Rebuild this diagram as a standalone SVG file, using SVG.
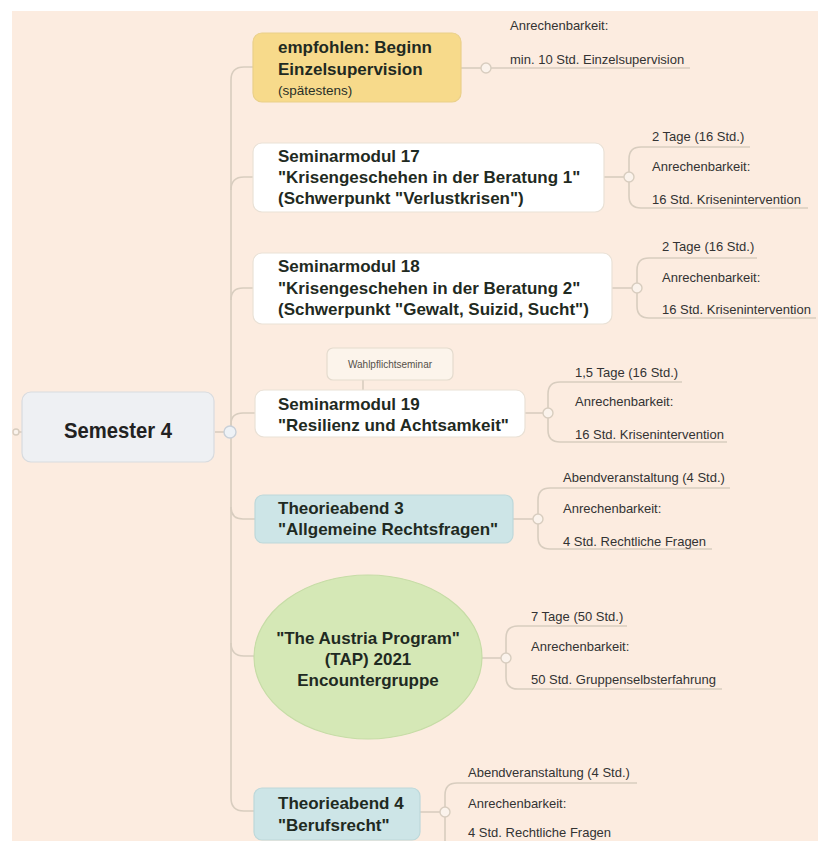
<svg xmlns="http://www.w3.org/2000/svg" width="818" height="841" viewBox="0 0 818 841">
  <style>
    .bg { fill: #fcece0; }
    .line { fill: none; stroke: #d8cdbf; stroke-width: 1.6; }
    .joint { fill: #fbf3ec; stroke: #d8cdbf; stroke-width: 1.4; }
    .box { stroke-width: 1.2; }
    .white { fill: #ffffff; stroke: #e9e1d6; }
    .yellow { fill: #f7da8b; stroke: #ead08a; }
    .teal { fill: #cde5e7; stroke: #bdd8da; }
    .green { fill: #d5e8b6; stroke: #c6dca6; }
    .title { font-family: "Liberation Sans", Arial, sans-serif; font-weight: bold; font-size: 17px; fill: #1f2a22; }
    .sub { font-family: "Liberation Sans", Arial, sans-serif; font-size: 13.5px; fill: #2a3028; }
    .leaf { font-family: "Liberation Sans", Arial, sans-serif; font-size: 13px; fill: #333333; }
    .tag { font-family: "Liberation Sans", Arial, sans-serif; font-size: 10px; fill: #555049; }
  </style>

  <!-- canvas -->
  <rect x="0" y="0" width="818" height="841" fill="#ffffff"/>
  <rect class="bg" x="12" y="11" width="806" height="830"/>

  <!-- connectors -->
  <g id="connectors">
    <!-- root to trunk -->
    <line class="line" x1="19" y1="432" x2="22" y2="432"/>
    <line class="line" x1="215" y1="432" x2="225" y2="432"/>
    <!-- trunk, upward branches -->
    <path class="line" d="M231,426 V80 Q231,67 244,67 H253"/>
    <path class="line" d="M231,190 Q231,177 244,177 H253"/>
    <path class="line" d="M231,300 Q231,288 243,288 H253"/>
    <path class="line" d="M231,426 V424 Q231,413 243,413 H255"/>
    <!-- trunk, downward branches -->
    <path class="line" d="M231,438 V798 Q231,811 244,811 H254"/>
    <path class="line" d="M231,507 Q231,519 243,519 H255"/>
    <path class="line" d="M231,643 Q231,656 244,656 H256"/>

    <!-- node to joint links -->
    <line class="line" x1="461" y1="68" x2="481" y2="68"/>
    <line class="line" x1="604" y1="177" x2="624" y2="177"/>
    <line class="line" x1="612" y1="288" x2="632" y2="288"/>
    <line class="line" x1="525" y1="413" x2="543" y2="413"/>
    <line class="line" x1="513" y1="519" x2="533" y2="519"/>
    <line class="line" x1="482" y1="658" x2="501" y2="658"/>
    <line class="line" x1="420" y1="812" x2="440" y2="812"/>
    <line class="line" x1="363" y1="380" x2="363" y2="390"/>

    <!-- leaf branches -->
    <path class="line" d="M491,68 H690"/>
    <path class="line" d="M629,172 V159 Q629,147 641,147 H750 M629,182 V196 Q629,208 641,208 H808"/>
    <path class="line" d="M637,283 V270 Q637,258 649,258 H757 M637,293 V306 Q637,318 649,318 H816"/>
    <path class="line" d="M548,408 V394 Q548,382 560,382 H682 M548,418 V430 Q548,442 560,442 H727"/>
    <path class="line" d="M538,514 V500 Q538,488 550,488 H730 M538,524 V537 Q538,549 550,549 H712"/>
    <path class="line" d="M506,653 V638 Q506,626 518,626 H627 M506,663 V677 Q506,689 518,689 H722"/>
    <path class="line" d="M445,807 V795 Q445,783 457,783 H637 M445,817 V841"/>

    <!-- joints -->
    <circle cx="16" cy="432" r="3" class="joint" fill="#eef1f4"/>
    <circle cx="230" cy="432" r="6" fill="#eef2f6" stroke="#c9d0d8" stroke-width="1.4"/>
    <circle cx="486" cy="68" r="5" class="joint"/>
    <circle cx="629" cy="177" r="5" class="joint"/>
    <circle cx="637" cy="288" r="5" class="joint"/>
    <circle cx="548" cy="413" r="5" class="joint"/>
    <circle cx="538" cy="519" r="5" class="joint"/>
    <circle cx="506" cy="658" r="5" class="joint"/>
    <circle cx="445" cy="812" r="5" class="joint"/>
  </g>

  <!-- root -->
  <g id="semester4">
    <rect x="22" y="392" width="192" height="70" rx="9" fill="#eef0f3" stroke="#d8dbdf" stroke-width="1.2"/>
    <text x="118" y="438" text-anchor="middle" font-family="'Liberation Sans', Arial, sans-serif" font-weight="bold" font-size="22" fill="#222222" textLength="108" lengthAdjust="spacingAndGlyphs">Semester 4</text>
  </g>

  <g id="einzelsupervision">
    <rect class="box yellow" x="253" y="33" width="208" height="69" rx="9"/>
    <text class="title" x="278" y="53">empfohlen: Beginn</text>
    <text class="title" x="278" y="75">Einzelsupervision</text>
    <text class="sub" x="278" y="95">(spätestens)</text>
    <text class="leaf" x="510" y="30">Anrechenbarkeit:</text>
    <text class="leaf" x="510" y="64">min. 10 Std. Einzelsupervision</text>
  </g>

  <g id="modul17">
    <rect class="box white" x="253" y="143" width="351" height="69" rx="9"/>
    <text class="title" x="278" y="162">Seminarmodul 17</text>
    <text class="title" x="278" y="183">"Krisengeschehen in der Beratung 1"</text>
    <text class="title" x="278" y="204">(Schwerpunkt "Verlustkrisen")</text>
    <text class="leaf" x="652" y="141">2 Tage (16 Std.)</text>
    <text class="leaf" x="652" y="171">Anrechenbarkeit:</text>
    <text class="leaf" x="652" y="204">16 Std. Krisenintervention</text>
  </g>

  <g id="modul18">
    <rect class="box white" x="253" y="253" width="359" height="71" rx="9"/>
    <text class="title" x="278" y="272">Seminarmodul 18</text>
    <text class="title" x="278" y="294">"Krisengeschehen in der Beratung 2"</text>
    <text class="title" x="278" y="315">(Schwerpunkt "Gewalt, Suizid, Sucht")</text>
    <text class="leaf" x="662" y="251">2 Tage (16 Std.)</text>
    <text class="leaf" x="662" y="282">Anrechenbarkeit:</text>
    <text class="leaf" x="662" y="314">16 Std. Krisenintervention</text>
  </g>

  <g id="wahlpflicht">
    <rect x="327" y="348" width="126" height="32" rx="6" fill="#fcf4eb" stroke="#e4dbce" stroke-width="1.2"/>
    <text class="tag" x="390" y="368" text-anchor="middle">Wahlpflichtseminar</text>
  </g>

  <g id="modul19">
    <rect class="box white" x="255" y="390" width="270" height="47" rx="9"/>
    <text class="title" x="278" y="410">Seminarmodul 19</text>
    <text class="title" x="278" y="431">"Resilienz und Achtsamkeit"</text>
    <text class="leaf" x="575" y="377">1,5 Tage (16 Std.)</text>
    <text class="leaf" x="575" y="406">Anrechenbarkeit:</text>
    <text class="leaf" x="575" y="439">16 Std. Krisenintervention</text>
  </g>

  <g id="theorieabend3">
    <rect class="box teal" x="255" y="495" width="258" height="48" rx="8"/>
    <text class="title" x="278" y="514">Theorieabend 3</text>
    <text class="title" x="278" y="535">"Allgemeine Rechtsfragen"</text>
    <text class="leaf" x="563" y="482">Abendveranstaltung (4 Std.)</text>
    <text class="leaf" x="563" y="513">Anrechenbarkeit:</text>
    <text class="leaf" x="563" y="546">4 Std. Rechtliche Fragen</text>
  </g>

  <g id="tap2021">
    <ellipse class="box green" cx="368" cy="657" rx="114" ry="82"/>
    <text class="title" x="368" y="644" text-anchor="middle">"The Austria Program"</text>
    <text class="title" x="368" y="665" text-anchor="middle">(TAP) 2021</text>
    <text class="title" x="368" y="686" text-anchor="middle">Encountergruppe</text>
    <text class="leaf" x="531" y="621">7 Tage (50 Std.)</text>
    <text class="leaf" x="531" y="651">Anrechenbarkeit:</text>
    <text class="leaf" x="531" y="684">50 Std. Gruppenselbsterfahrung</text>
  </g>

  <g id="theorieabend4">
    <rect class="box teal" x="254" y="788" width="166" height="52" rx="8"/>
    <text class="title" x="278" y="809">Theorieabend 4</text>
    <text class="title" x="278" y="831">"Berufsrecht"</text>
    <text class="leaf" x="468" y="777">Abendveranstaltung (4 Std.)</text>
    <text class="leaf" x="468" y="808">Anrechenbarkeit:</text>
    <text class="leaf" x="468" y="837">4 Std. Rechtliche Fragen</text>
  </g>
</svg>
